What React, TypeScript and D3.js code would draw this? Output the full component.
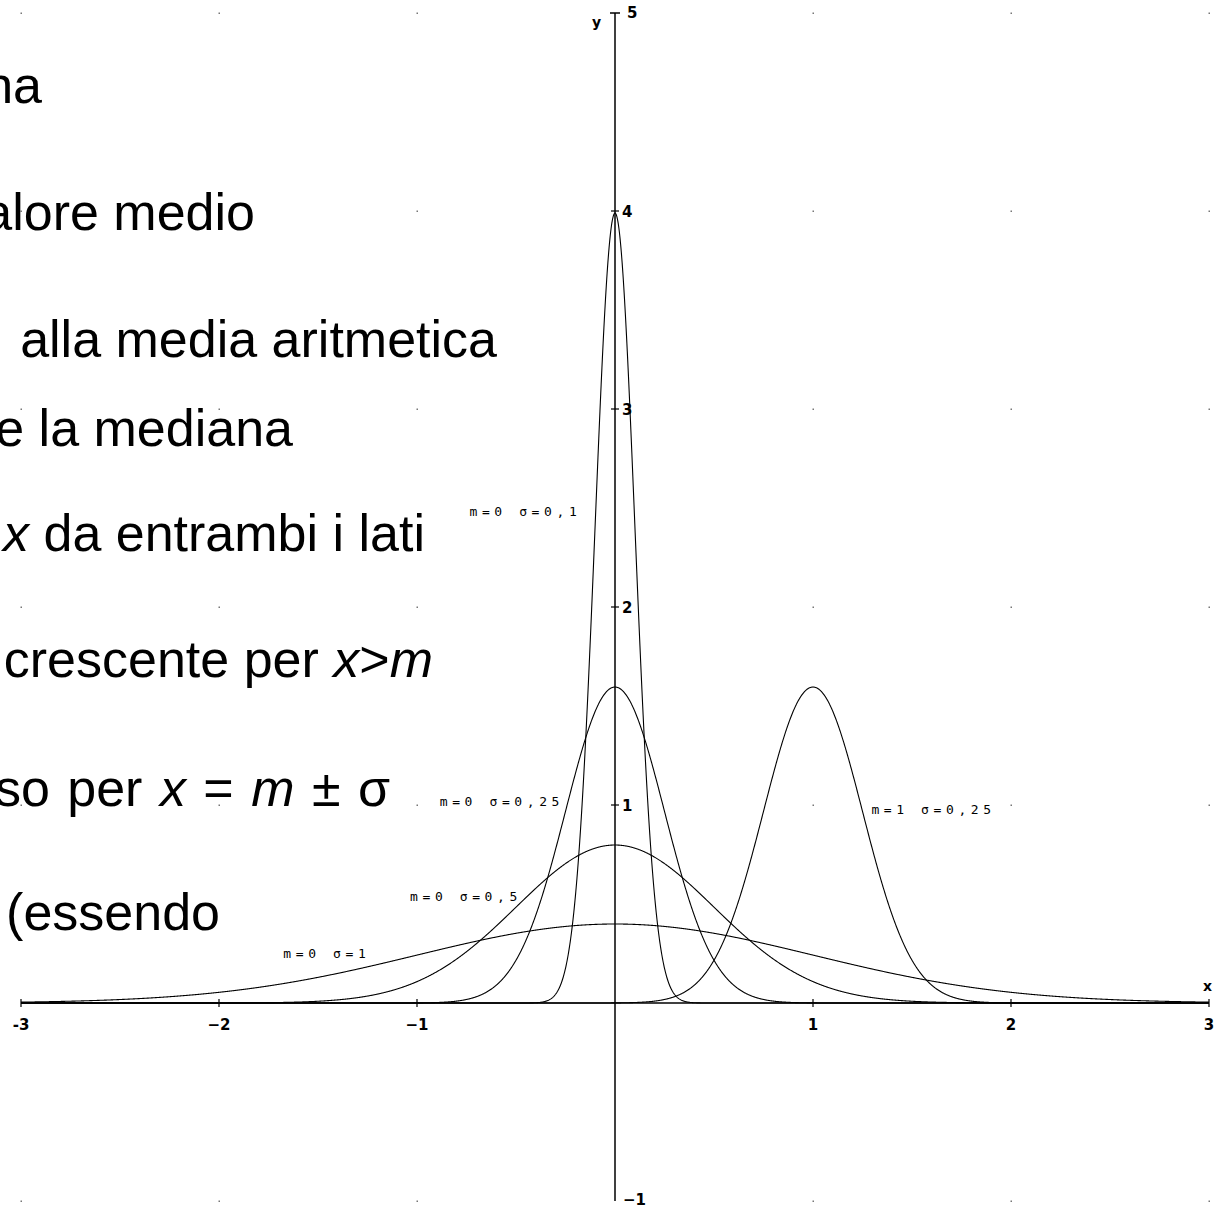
import React from "react";
import * as d3 from "d3";

const W = 1221;
const H = 1208;

// curve parameters (mean m, std sigma)
const means = [0, 0, 0, 0, 1];
const sigmas = [0.1, 0.25, 0.5, 1, 0.25];
const curveLabels = ["m=0 σ=0,1", "m=0 σ=0,25", "m=0 σ=0,5", "m=0 σ=1", "m=1 σ=0,25"];
// label anchor in data coords (left x, baseline y)
const labelX = [-0.735, -0.885, -1.035, -1.675, 1.295];
const labelY = [2.46, 0.993, 0.515, 0.228, 0.953];

const xTicks = [-3, -2, -1, 1, 2, 3];
const xTickLabels = ["-3", "−2", "−1", "1", "2", "3"];
const yTicks = [1, 2, 3, 4];
const yTickLabels = ["1", "2", "3", "4"];
const gridX = [-3, -2, -1, 1, 2, 3];
const gridY = [-1, 1, 2, 3, 4, 5];

// left-hand text lines (partially cut at left edge), right end x in px, baseline y
const textLines: { parts: { t: string; i?: boolean }[]; endX: number; y: number; ws?: number }[] = [
  { parts: [{ t: "na" }], endX: 42, y: 103 },
  { parts: [{ t: "alore medio" }], endX: 255, y: 230 },
  { parts: [{ t: "alla media aritmetica" }], endX: 497, y: 357 },
  { parts: [{ t: "e la mediana" }], endX: 293, y: 446 },
  { parts: [{ t: "x", i: true }, { t: " da entrambi i lati" }], endX: 425, y: 551 },
  { parts: [{ t: "crescente per " }, { t: "x", i: true }, { t: ">" }, { t: "m", i: true }], endX: 433, y: 677 },
  { parts: [{ t: "so per " }, { t: "x", i: true }, { t: " = " }, { t: "m", i: true }, { t: " ± σ" }], endX: 390, y: 806, ws: 3 },
  { parts: [{ t: "(essendo" }], endX: 220, y: 930 },
];

export default function App() {
  const x = d3.scaleLinear().domain([-3, 3]).range([21, 1209]);
  const y = d3.scaleLinear().domain([-1, 5]).range([1201, 13]);
  const xs = d3.range(-3, 3.0001, 0.002);
  const line = d3
    .line<number[]>()
    .x((d) => x(d[0]))
    .y((d) => y(d[1]));
  const pdf = (v: number, m: number, s: number) =>
    Math.exp(-((v - m) * (v - m)) / (2 * s * s)) / (s * Math.sqrt(2 * Math.PI));

  return (
    <svg
      width={W}
      height={H}
      style={{ position: "absolute", left: 0, top: 0, background: "#fff" }}
    >
      <rect x={0} y={0} width={W} height={H} fill="#fff" />
      {/* grid dots */}
      {gridX.map((gx) =>
        gridY.map((gy) => (
          <rect key={`${gx}_${gy}`} x={x(gx) - 0.5} y={y(gy) - 0.5} width={1.5} height={1.5} fill="#777" />
        ))
      )}
      {/* left text */}
      {textLines.map((ln, k) => (
        <text
          key={k}
          x={ln.endX}
          y={ln.y}
          textAnchor="end"
          fontFamily="'Liberation Sans', Arial, sans-serif"
          fontSize={52}
          wordSpacing={ln.ws || 0}
          fill="#000"
        >
          {ln.parts.map((p, j) => (
            <tspan key={j} fontStyle={p.i ? "italic" : "normal"}>
              {p.t}
            </tspan>
          ))}
        </text>
      ))}
      {/* axes */}
      <line x1={x(-3)} x2={x(3)} y1={y(0)} y2={y(0)} stroke="#000" strokeWidth={1.5} />
      <line x1={x(0)} x2={x(0)} y1={y(5)} y2={y(-1)} stroke="#000" strokeWidth={1.5} />
      <line x1={x(0) - 5} x2={x(0) + 5} y1={y(5)} y2={y(5)} stroke="#000" strokeWidth={1.5} />
      {xTicks.map((t) => (
        <line key={t} x1={x(t)} x2={x(t)} y1={y(0) - 4} y2={y(0) + 4} stroke="#000" strokeWidth={1.2} />
      ))}
      {yTicks.map((t) => (
        <line key={t} x1={x(0) - 4} x2={x(0) + 4} y1={y(t)} y2={y(t)} stroke="#000" strokeWidth={1.2} />
      ))}
      {xTicks.map((t, k) => (
        <text
          key={t}
          x={x(t)}
          y={y(0) + 27}
          textAnchor="middle"
          fontFamily="'DejaVu Sans', sans-serif"
          fontWeight="bold"
          fontSize={15}
        >
          {xTickLabels[k]}
        </text>
      ))}
      {yTicks.map((t, k) => (
        <text
          key={t}
          x={x(0) + 7}
          y={y(t) + 6}
          fontFamily="'DejaVu Sans', sans-serif"
          fontWeight="bold"
          fontSize={15}
        >
          {yTickLabels[k]}
        </text>
      ))}
      <text x={x(0) + 12} y={y(5) + 5} fontFamily="'DejaVu Sans', sans-serif" fontWeight="bold" fontSize={15}>
        5
      </text>
      <text x={x(0) + 8} y={y(-1) + 4} fontFamily="'DejaVu Sans', sans-serif" fontWeight="bold" fontSize={15}>
        −1
      </text>
      <text x={x(0) - 23} y={y(5) + 14} fontFamily="'DejaVu Sans', sans-serif" fontWeight="bold" fontSize={14}>
        y
      </text>
      <text x={x(3) - 6} y={y(0) - 12} fontFamily="'DejaVu Sans', sans-serif" fontWeight="bold" fontSize={14}>
        x
      </text>
      {/* curves */}
      {means.map((m, k) => (
        <path
          key={k}
          d={line(xs.map((v) => [v, pdf(v, m, sigmas[k])])) || ""}
          fill="none"
          stroke="#000"
          strokeWidth={1.1}
        />
      ))}
      {curveLabels.map((lb, k) => (
        <text
          key={k}
          x={x(labelX[k])}
          y={y(labelY[k])}
          fontFamily="'DejaVu Sans Mono', monospace"
          fontSize={13}
          letterSpacing={4.6}
          fill="#000"
          style={{ whiteSpace: "pre" }}
        >
          {lb}
        </text>
      ))}
    </svg>
  );
}
